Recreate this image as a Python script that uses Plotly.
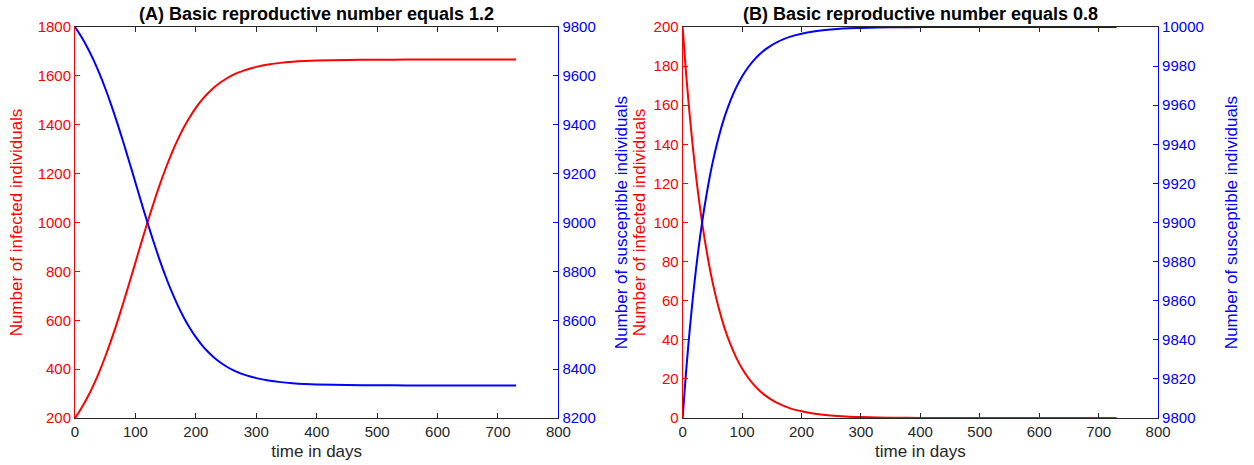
import plotly.graph_objects as go

# ---- data ----
days_A = [0, 10, 20, 30, 40, 50, 60, 70, 80, 90, 100, 110, 120, 130, 140, 150, 160, 170, 180, 190,
          200, 210, 220, 230, 240, 250, 260, 270, 280, 290, 300, 320, 340, 360, 380, 400, 450, 500,
          550, 600, 650, 700, 730]
infected_A = [200.0, 238.0, 281.7, 331.7, 388.0, 450.7, 519.4, 593.5, 671.9, 753.4, 836.5, 919.6,
              1000.9, 1079.0, 1152.7, 1220.9, 1283.2, 1339.0, 1388.5, 1431.8, 1469.3, 1501.6, 1529.0,
              1552.3, 1571.8, 1588.2, 1601.9, 1613.3, 1622.7, 1630.5, 1636.9, 1646.6, 1653.2, 1657.6,
              1660.6, 1662.6, 1665.2, 1666.1, 1666.5, 1666.6, 1666.7, 1666.7, 1666.7]
susceptible_A = [9800.0, 9762.0, 9718.3, 9668.3, 9612.0, 9549.3, 9480.6, 9406.5, 9328.1, 9246.6,
                 9163.5, 9080.4, 8999.1, 8921.0, 8847.3, 8779.1, 8716.8, 8661.0, 8611.5, 8568.2,
                 8530.7, 8498.4, 8471.0, 8447.7, 8428.2, 8411.8, 8398.1, 8386.7, 8377.3, 8369.5,
                 8363.1, 8353.4, 8346.8, 8342.4, 8339.4, 8337.4, 8334.8, 8333.9, 8333.5, 8333.4,
                 8333.3, 8333.3, 8333.3]

days_B = [0, 5, 10, 15, 20, 25, 30, 35, 40, 45, 50, 60, 70, 80, 90, 100, 110, 120, 130, 140, 150,
          160, 170, 180, 190, 200, 220, 240, 260, 280, 300, 350, 400, 500, 600, 730]
infected_B = [200.0, 179.6, 161.4, 145.2, 130.6, 117.6, 105.9, 95.5, 86.1, 77.6, 70.0, 57.1, 46.5,
              38.0, 31.0, 25.3, 20.7, 16.9, 13.8, 11.3, 9.25, 7.57, 6.20, 5.07, 4.15, 3.40, 2.28,
              1.53, 1.02, 0.68, 0.46, 0.17, 0.06, 0.01, 0.0, 0.0]
susceptible_B = [9800.0, 9820.4, 9838.6, 9854.8, 9869.4, 9882.4, 9894.1, 9904.5, 9913.9, 9922.4,
                 9930.0, 9942.9, 9953.5, 9962.0, 9969.0, 9974.7, 9979.3, 9983.1, 9986.2, 9988.7,
                 9990.75, 9992.43, 9993.80, 9994.93, 9995.85, 9996.60, 9997.72, 9998.47, 9998.98,
                 9999.32, 9999.54, 9999.83, 9999.94, 9999.99, 10000.0, 10000.0]

title_A = "(A) Basic reproductive number equals 1.2"
title_B = "(B) Basic reproductive number equals 0.8"
x_label = "time in days"
yl_label = "Number of infected individuals"
yr_label = "Number of susceptible individuals"

RED = "#ff0000"
BLUE = "#0000ff"
DARK = "#262626"
FONT = "Liberation Sans, Arial, Helvetica, sans-serif"

fig = go.Figure()
line_kw = dict(width=2, shape="spline", smoothing=0.8)
fig.add_trace(go.Scatter(x=days_A, y=infected_A, mode="lines", line=dict(color=RED, **line_kw),
                         xaxis="x", yaxis="y", showlegend=False))
fig.add_trace(go.Scatter(x=days_A, y=susceptible_A, mode="lines", line=dict(color=BLUE, **line_kw),
                         xaxis="x", yaxis="y2", showlegend=False))
fig.add_trace(go.Scatter(x=days_B, y=infected_B, mode="lines", line=dict(color=RED, **line_kw),
                         xaxis="x2", yaxis="y3", showlegend=False))
fig.add_trace(go.Scatter(x=days_B, y=susceptible_B, mode="lines", line=dict(color=BLUE, **line_kw),
                         xaxis="x2", yaxis="y4", showlegend=False))

xcommon = dict(range=[0, 800], dtick=100, showgrid=False, zeroline=False, showline=True,
               linecolor=DARK, linewidth=1, mirror="ticks", ticks="inside", ticklen=5,
               tickcolor=DARK, tickfont=dict(size=15, color=DARK, family=FONT),
               title=dict(text=x_label, font=dict(size=17, color=DARK, family=FONT), standoff=6))

def yax(color, rng, dtick, side, title, standoff, **kw):
    d = dict(range=rng, dtick=dtick, showgrid=False, zeroline=False, showline=True,
             linecolor=color, linewidth=1, ticks="inside", ticklen=5, tickcolor=color,
             tickformat="d",
             tickfont=dict(size=15, color=color, family=FONT), side=side,
             title=dict(text=title, font=dict(size=17, color=color, family=FONT),
                        standoff=standoff))
    d.update(kw)
    return d

fig.update_layout(
    width=1254, height=465,
    margin=dict(l=0, r=0, t=27, b=47),
    paper_bgcolor="white", plot_bgcolor="white",
    font=dict(family=FONT),
    xaxis=dict(domain=[0.0574, 0.4482], anchor="y", **xcommon),
    xaxis2=dict(domain=[0.5486, 0.9330], anchor="y3", **xcommon),
    yaxis=yax(RED, [200, 1800], 200, "left", yl_label, 10, anchor="x"),
    yaxis2=yax(BLUE, [8200, 9800], 200, "right", yr_label, 20, anchor="x", overlaying="y"),
    yaxis3=yax(RED, [0, 200], 20, "left", yl_label, 3, anchor="x2"),
    yaxis4=yax(BLUE, [9800, 10000], 20, "right", yr_label, 22, anchor="x2", overlaying="y3"),
    annotations=[
        dict(text="<b>" + title_A + "</b>", xref="x domain", yref="paper", x=0.5, y=1,
             yshift=1, xanchor="center", yanchor="bottom", showarrow=False,
             font=dict(size=18, color="black", family=FONT)),
        dict(text="<b>" + title_B + "</b>", xref="x2 domain", yref="paper", x=0.5, y=1,
             yshift=1, xanchor="center", yanchor="bottom", showarrow=False,
             font=dict(size=18, color="black", family=FONT)),
    ],
)

fig.write_html("out.html")
